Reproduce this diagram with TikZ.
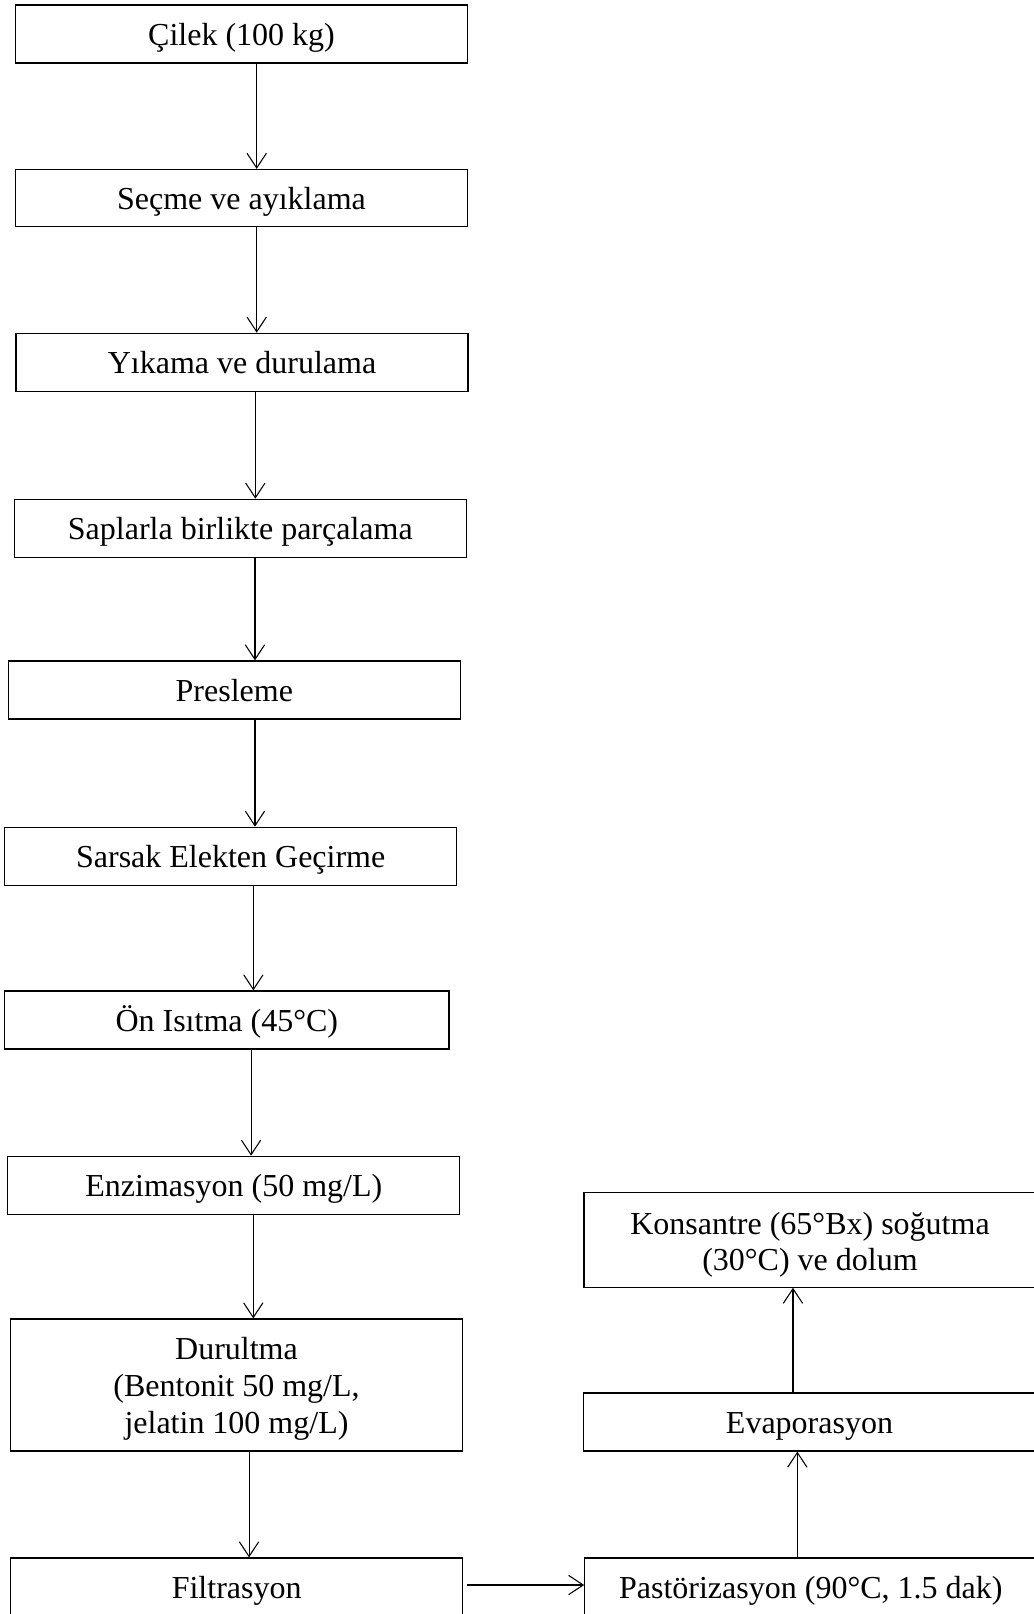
\documentclass[tikz,border=0pt]{standalone}
\usepackage{fontspec}
\setmainfont{Liberation Serif}
\usetikzlibrary{arrows.meta}
\tikzset{
  stepbox/.style={draw, line width=0.9pt, inner sep=0pt, align=center,
    minimum width=339pt, minimum height=43.5pt,
    font=\fontsize{24}{27.5}\selectfont},
  oneline/.style={stepbox, text height=16.5pt, text depth=0pt},
  arr/.style={line width=0.8pt, -{Straight Barb[length=11pt, width=14.5pt, line width=0.8pt]}}
}
\begin{document}
\begin{tikzpicture}[x=0.75pt, y=-0.75pt]
\useasboundingbox (0,0) rectangle (1034,1614);
\clip (0,0) rectangle (1034,1614);
\node[oneline] (n1) at (241.5,34) {Çilek (100 kg)};
\node[oneline, minimum height=42.75pt] (n2) at (241.5,198) {Seçme ve ayıklama};
\node[oneline] (n3) at (242,362.3) {Yıkama ve durulama};
\node[oneline] (n4) at (240.3,528.3) {Saplarla birlikte parçalama};
\node[oneline] (n5) at (234.3,690) {Presleme};
\node[oneline] (n6) at (230.7,856.3) {Sarsak Elekten Geçirme};
\node[oneline, minimum width=333.2pt] (n7) at (226.8,1020) {Ön Isıtma (45°C)};
\node[oneline] (n8) at (233.8,1185.3) {Enzimasyon (50 mg/L)};
\node[stepbox, minimum width=338.6pt, minimum height=99pt] (n9) at (236.5,1385) {\rule{0pt}{22.5pt}Durultma\\(Bentonit 50 mg/L,\\jelatin 100 mg/L)};
\node[oneline] (n10) at (236.7,1587) {Filtrasyon};
\node[oneline] (n11) at (810.8,1587) {Pastörizasyon (90°C, 1.5 dak)};
\node[oneline] (n12) at (809.5,1422) {Evaporasyon};
\node[stepbox, minimum height=70.7pt] (n13) at (810,1240) {\rule{0pt}{24pt}Konsantre (65°Bx) soğutma\\(30°C) ve dolum};
\draw[arr] ([xshift=11.4pt]n1.south) -- ([xshift=11.4pt]n1.south |- n2.north);
\draw[arr] ([xshift=11.4pt]n2.south) -- ([xshift=11.4pt]n2.south |- n3.north);
\draw[arr] ([xshift=10pt]n3.south) -- ([xshift=10pt]n3.south |- n4.north);
\draw[arr] ([xshift=11pt]n4.south) -- ([xshift=11pt]n4.south |- n5.north);
\draw[arr] ([xshift=15.5pt]n5.south) -- ([xshift=15.5pt]n5.south |- n6.north);
\draw[arr] ([xshift=17pt]n6.south) -- ([xshift=17pt]n6.south |- n7.north);
\draw[arr] ([xshift=18.2pt]n7.south) -- ([xshift=18.2pt]n7.south |- n8.north);
\draw[arr] ([xshift=14.6pt]n8.south) -- ([xshift=14.6pt]n8.south |- n9.north);
\draw[arr] ([xshift=9.4pt]n9.south) -- ([xshift=9.4pt]n9.south |- n10.north);
\draw[arr] ([xshift=3pt,yshift=1.5pt]n10.east) -- ([yshift=1.5pt]n11.west);
\draw[arr] ([xshift=-10.1pt]n11.north) -- ([xshift=-10.1pt]n11.north |- n12.south);
\draw[arr] ([xshift=-12.4pt]n12.north) -- ([xshift=-12.4pt]n12.north |- n13.south);
\end{tikzpicture}
\end{document}
